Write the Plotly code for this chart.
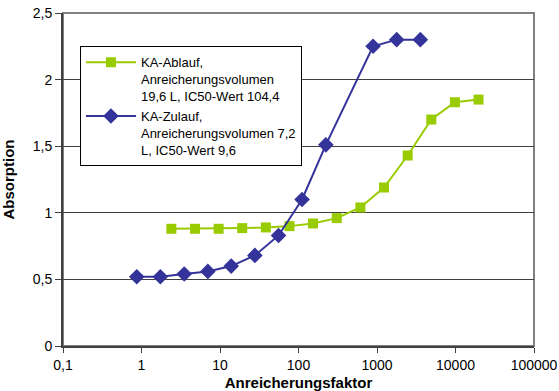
import plotly.graph_objects as go

# Data
green_name = "KA-Ablauf,<br>Anreicherungsvolumen<br>19,6 L, IC50-Wert 104,4"
green_x = [2.4, 4.8, 9.6, 19.2, 38.4, 76.8, 153, 307, 614, 1229, 2458, 4915, 9830, 19660]
green_y = [0.88, 0.88, 0.88, 0.885, 0.89, 0.90, 0.92, 0.96, 1.04, 1.19, 1.43, 1.70, 1.83, 1.85]

blue_name = "KA-Zulauf,<br>Anreicherungsvolumen 7,2<br>L, IC50-Wert 9,6"
blue_x = [0.87, 1.74, 3.5, 7.0, 13.9, 27.8, 55.7, 111, 223, 891, 1782, 3564]
blue_y = [0.52, 0.52, 0.54, 0.56, 0.60, 0.68, 0.83, 1.10, 1.51, 2.25, 2.30, 2.30]

x_tickvals = [0.1, 1, 10, 100, 1000, 10000, 100000]
x_ticktext = ["0,1", "1", "10", "100", "1000", "10000", "100000"]
y_tickvals = [0, 0.5, 1, 1.5, 2, 2.5]
y_ticktext = ["0", "0,5", "1", "1,5", "2", "2,5"]

font_family = "Liberation Sans, Arial, sans-serif"

fig = go.Figure()
fig.add_trace(go.Scatter(
    x=green_x, y=green_y, name=green_name, mode="lines+markers",
    line=dict(color="#99CC00", width=2),
    marker=dict(symbol="square", size=10, color="#99CC00"),
))
fig.add_trace(go.Scatter(
    x=blue_x, y=blue_y, name=blue_name, mode="lines+markers",
    line=dict(color="#333399", width=2),
    marker=dict(symbol="diamond", size=12, color="#333399"),
))

fig.update_layout(
    width=559, height=391,
    margin=dict(l=63, r=25, t=13, b=45),
    paper_bgcolor="white", plot_bgcolor="white",
    font=dict(family=font_family, size=14, color="black"),
    showlegend=True,
    legend=dict(
        x=0.036, y=0.90, xanchor="left", yanchor="top",
        bgcolor="white", bordercolor="black", borderwidth=1,
        font=dict(size=13, family=font_family),
        valign="top", tracegroupgap=6, itemwidth=50,
    ),
    xaxis=dict(
        type="log", range=[-1, 5], automargin=False,
        tickvals=x_tickvals, ticktext=x_ticktext,
        ticks="outside", ticklen=5, tickcolor="#404040",
        showline=True, linecolor="#404040", linewidth=2,
        showgrid=False, zeroline=False,
        title=dict(text="<b>Anreicherungsfaktor</b>", font=dict(size=15)),
        tickfont=dict(size=14),
    ),
    yaxis=dict(
        range=[0, 2.5], automargin=False,
        tickvals=y_tickvals, ticktext=y_ticktext,
        ticks="outside", ticklen=6, tickcolor="#404040",
        showline=True, linecolor="#404040", linewidth=2,
        showgrid=True, gridcolor="#404040", gridwidth=1,
        zeroline=False,
        title=dict(text="<b>Absorption</b>", font=dict(size=15)),
        tickfont=dict(size=14),
    ),
    shapes=[dict(type="rect", xref="paper", yref="paper", x0=0, y0=0, x1=1, y1=1,
                 line=dict(color="#808080", width=2), layer="below")],
)

fig.write_html("out.html", config={"displayModeBar": False},
               post_script="document.body.style.margin='0px';")
